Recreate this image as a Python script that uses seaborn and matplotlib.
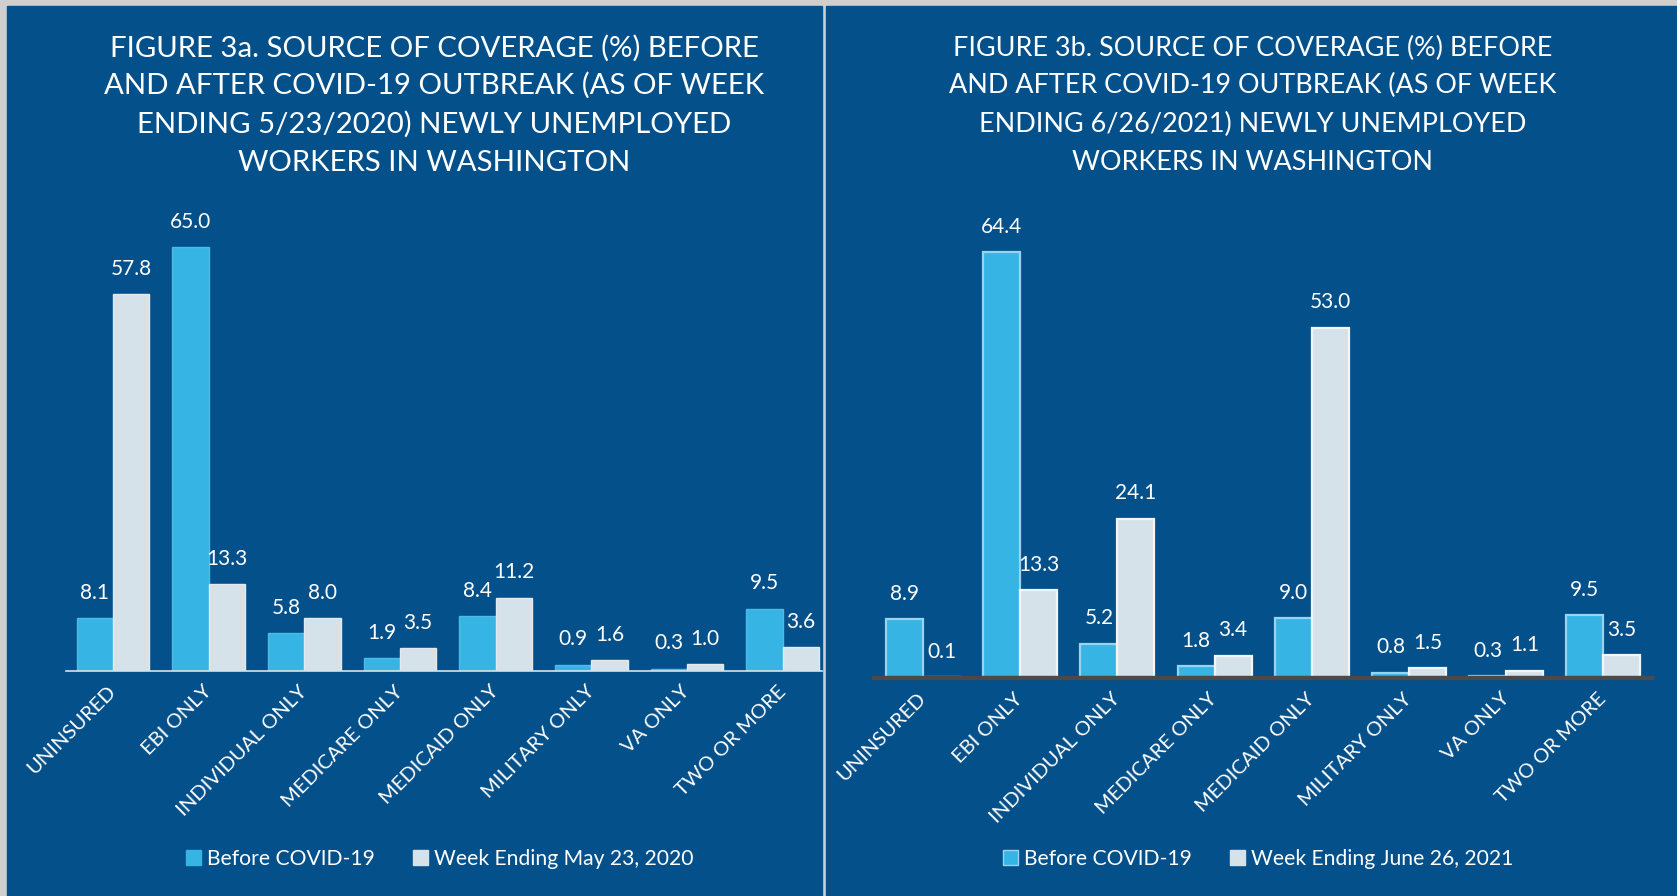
import matplotlib
matplotlib.use("Agg")
import matplotlib.pyplot as plt
from matplotlib.patches import Rectangle, Patch
import seaborn as sns
import pandas as pd

# ---------------- data ----------------
categories = ["UNINSURED", "EBI ONLY", "INDIVIDUAL ONLY", "MEDICARE ONLY",
              "MEDICAID ONLY", "MILITARY ONLY", "VA ONLY", "TWO OR MORE"]
a_before = [8.1, 65.0, 5.8, 1.9, 8.4, 0.9, 0.3, 9.5]
a_after = [57.8, 13.3, 8.0, 3.5, 11.2, 1.6, 1.0, 3.6]
b_before = [8.9, 64.4, 5.2, 1.8, 9.0, 0.8, 0.3, 9.5]
b_after = [0.1, 13.3, 24.1, 3.4, 53.0, 1.5, 1.1, 3.5]
series_before = "Before COVID-19"
series_a_after = "Week Ending May 23, 2020"
series_b_after = "Week Ending June 26, 2021"
title_a = ["FIGURE 3a. SOURCE OF COVERAGE (%) BEFORE",
           "AND AFTER COVID-19 OUTBREAK (AS OF WEEK",
           "ENDING 5/23/2020) NEWLY UNEMPLOYED",
           "WORKERS IN WASHINGTON"]
title_b = ["FIGURE 3b. SOURCE OF COVERAGE (%) BEFORE",
           "AND AFTER COVID-19 OUTBREAK (AS OF WEEK",
           "ENDING 6/26/2021) NEWLY UNEMPLOYED",
           "WORKERS IN WASHINGTON"]

# ---------------- style ----------------
W, H = 1677, 896
BG = "#04508A"
BORDER = "#CFCFCF"
C_BEFORE = "#36B4E4"
C_AFTER = "#D6E2EA"
FONT = ["Lato", "DejaVu Sans"]

sns.set_theme(style="white")
plt.rcParams["font.family"] = FONT

fig = plt.figure(figsize=(W / 100, H / 100), dpi=100)
fig.patch.set_facecolor(BORDER)

# panels
fig.patches.append(Rectangle((7 / W, 0), (822 - 7) / W, (H - 6) / H,
                             transform=fig.transFigure, color=BG, zorder=-5))
fig.patches.append(Rectangle((826 / W, 0), (W - 826) / W, (H - 6) / H,
                             transform=fig.transFigure, color=BG, zorder=-5))


def fx(px):
    return px / W


def fy(py):
    return 1 - py / H


def make_panel(ax, before, after, after_name, xlim, ylim, base_color, base_lw,
               edge_before, edge_after, lw):
    df = pd.DataFrame({
        "category": categories * 2,
        "value": before + after,
        "series": [series_before] * len(categories) + [after_name] * len(categories),
    })
    sns.barplot(data=df, x="category", y="value", hue="series",
                palette=[C_BEFORE, C_AFTER], saturation=1, width=0.76,
                ax=ax, legend=False, errorbar=None)
    for cont, ec in zip(ax.containers, [edge_before, edge_after]):
        for p in cont:
            p.set_edgecolor(ec)
            p.set_linewidth(lw)
        ax.bar_label(cont, fmt="%.1f", padding=11, color="white", fontsize=15)
    ax.set_facecolor("none")
    ax.set_xlim(*xlim)
    ax.set_ylim(*ylim)
    ax.set_xlabel("")
    ax.set_ylabel("")
    ax.set_yticks([])
    for s in ["top", "right", "left"]:
        ax.spines[s].set_visible(False)
    ax.spines["bottom"].set_color(base_color)
    ax.spines["bottom"].set_linewidth(base_lw)
    ax.tick_params(axis="x", length=0, pad=13, colors="white", labelsize=14.5)
    for lab in ax.get_xticklabels():
        lab.set_rotation(45)
        lab.set_ha("right")
        lab.set_va("center")
        lab.set_rotation_mode("anchor")


ax1 = fig.add_axes([fx(66), fy(670.6), fx(822 - 66), 470.6 / H])
make_panel(ax1, a_before, a_after, series_a_after, (-0.49, 7.41), (0, 72.2),
           "#D6E2EA", 1.2, "#4DBBE6", "#E2EAF0", 1.0)

ax2 = fig.add_axes([fx(874.4), fy(678), fx(1652 - 874.4), 478 / H])
make_panel(ax2, b_before, b_after, series_b_after, (-0.5, 7.5), (0, 72.3),
           "#4A4A4A", 3.2, "#9AD3EE", "#F2F6F9", 1.6)

# titles (one text per line, auto-fit width)
renderer = fig.canvas.get_renderer()


def add_title(lines, cx, ys, target_w):
    texts = [fig.text(fx(cx), fy(y), s, ha="center", va="center",
                      color="white", fontsize=20) for s, y in zip(lines, ys)]
    wmax = max(t.get_window_extent(renderer).width for t in texts)
    for t in texts:
        t.set_fontsize(20 * target_w / wmax)


add_title(title_a, 434, [48, 85.6, 124, 162.6], 659)
add_title(title_b, 1253, [48, 85.6, 124, 162.6], 606)

# legends
for ax, after_name, cx in [(ax1, series_a_after, 440), (ax2, series_b_after, 1258)]:
    handles = [Patch(facecolor=C_BEFORE, edgecolor="#9AD3EE" if ax is ax2 else C_BEFORE),
               Patch(facecolor=C_AFTER, edgecolor=C_AFTER)]
    ax.legend(handles, [series_before, after_name], loc="center",
              bbox_to_anchor=(fx(cx), fy(859)), bbox_transform=fig.transFigure,
              ncol=2, frameon=False, handlelength=0.7, handleheight=0.7,
              handletextpad=0.3, columnspacing=1.8, labelcolor="white",
              fontsize=15.2, borderaxespad=0)

fig.savefig("out.png", dpi=100, facecolor=fig.get_facecolor())
